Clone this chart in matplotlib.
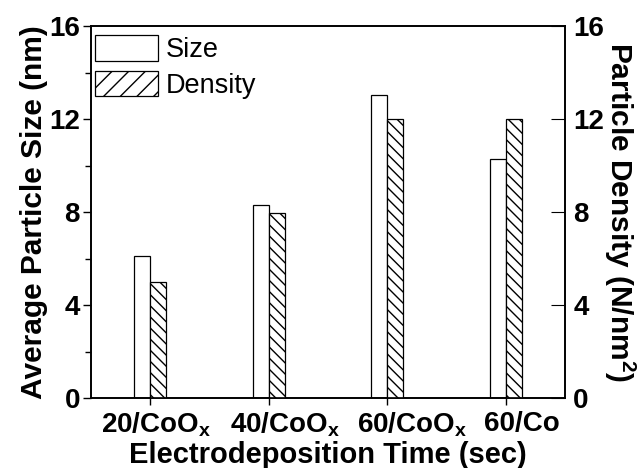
import numpy as np
import matplotlib
matplotlib.use('Agg')
import matplotlib.pyplot as plt
from matplotlib.patches import Patch
from matplotlib.ticker import MultipleLocator

plt.rcParams['font.family'] = ['Liberation Sans', 'DejaVu Sans']
plt.rcParams['mathtext.fontset'] = 'custom'
plt.rcParams['mathtext.rm'] = 'Liberation Sans:bold'
plt.rcParams['hatch.linewidth'] = 1.0

# data
categories = ['20/CoO$_\\mathregular{x}$', '40/CoO$_\\mathregular{x}$',
              '60/CoO$_\\mathregular{x}$', '60/Co']
size_nm = [6.1, 8.3, 13.05, 10.3]
density = [5.0, 7.95, 12.0, 12.0]
# labels in the original sit a bit right of their ticks (data units)
label_shift = [0.05, 0.14, 0.21, 0.14]

x = np.arange(len(categories))
w = 0.135

fig = plt.figure(figsize=(6.41, 4.68), dpi=100)
ax = fig.add_axes([91/641, 1 - 398/468, (565-91)/641, (398-26)/468])

ax.bar(x - w/2, size_nm, w, color='white', edgecolor='black', linewidth=0.9)
ax2 = ax.twinx()
ax2.bar(x + w/2, density, w, color='white', edgecolor='black', linewidth=0.9,
        hatch='\\\\\\')

ax.set_xlim(-0.5, 3.5)
ax.set_ylim(0, 16)
ax2.set_ylim(0, 16)
ax.yaxis.set_major_locator(MultipleLocator(4))
ax.yaxis.set_minor_locator(MultipleLocator(2))
ax2.yaxis.set_major_locator(MultipleLocator(4))

# tick marks on the categories, labels drawn on shifted minor ticks
ax.set_xticks(x)
ax.set_xticklabels([''] * len(x))
ax.set_xticks(x + np.array(label_shift), minor=True)
ax.set_xticklabels(categories, minor=True, fontsize=20, fontweight='bold')
for lab in ax.get_yticklabels():
    lab.set_fontsize(20); lab.set_fontweight('bold')
for lab in ax2.get_yticklabels():
    lab.set_fontsize(20); lab.set_fontweight('bold')

ax.tick_params(axis='y', which='major', direction='out', length=6, width=1, pad=2)
ax.tick_params(axis='y', which='minor', direction='out', length=4, width=1)
ax.tick_params(axis='x', which='major', direction='out', length=5, width=1)
ax.tick_params(axis='x', which='minor', length=0, pad=9)
ax2.tick_params(axis='y', direction='in', length=10, width=0.8, pad=6)

for sp in ax.spines.values():
    sp.set_linewidth(1.2)
for sp in ax2.spines.values():
    sp.set_linewidth(1.2)

ax.set_xlabel('Electrodeposition Time (sec)', fontsize=21, fontweight='bold', labelpad=1)
ax.set_ylabel('Average Particle Size (nm)', fontsize=21.5, fontweight='bold', labelpad=1)
ax2.set_ylabel('Particle Density (N/nm$^2$)', fontsize=21.5, fontweight='bold',
               rotation=270, labelpad=24)

handles = [Patch(facecolor='white', edgecolor='black', linewidth=0.9, label='Size'),
           Patch(facecolor='white', edgecolor='black', linewidth=0.9, hatch='//', label='Density')]
ax2.legend(handles=handles, loc='upper left', bbox_to_anchor=(0.0035, 0.982),
           frameon=False, fontsize=19.5,
           handlelength=2.3, handleheight=1.05, labelspacing=0.3, handletextpad=0.3,
           borderaxespad=0, borderpad=0.1)

fig.savefig('out.png', dpi=100)
